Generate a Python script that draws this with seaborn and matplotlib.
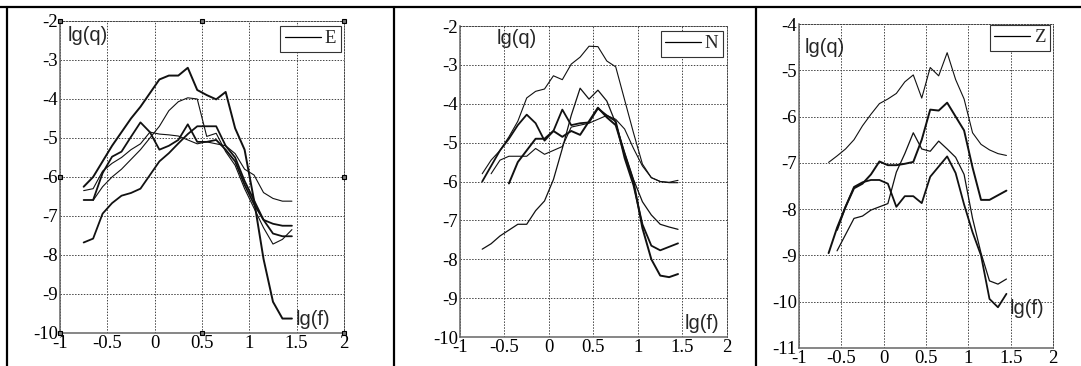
import numpy as np
import pandas as pd
import matplotlib
matplotlib.use('Agg')
import matplotlib.pyplot as plt
from matplotlib.lines import Line2D
import seaborn as sns

nan = np.nan

# lg(f) sample points shared by all curves
lg_f = [-0.75, -0.65, -0.55, -0.45, -0.35, -0.25, -0.15, -0.05, 0.05, 0.15, 0.25, 0.35,
        0.45, 0.55, 0.65, 0.75, 0.85, 0.95, 1.05, 1.15, 1.25, 1.35, 1.45]

# component E
E_a = [-6.25, -6.0, -5.6, -5.2, -4.85, -4.5, -4.2, -3.85, -3.5, -3.4, -3.4, -3.2,
       -3.77, -3.9, -4.01, -3.82, -4.75, -5.3, -6.6, -8.1, -9.2, -9.63, -9.63]
E_b = [nan, -6.6, -6.25, -6.0, -5.8, -5.55, -5.3, -5.0, -4.7, -4.3, -4.07, -3.97,
       -4.0, -4.96, -4.88, -5.35, -5.7, -6.3, -6.8, -7.3, -7.72, -7.6, -7.35]
E_c = [-6.59, -6.59, -5.9, -5.48, -5.35, -4.97, -4.6, -4.85, -5.3, -5.2, -5.05, -4.65,
       -5.1, -5.1, -5.05, -5.3, -5.6, -6.2, -6.7, -7.1, -7.2, -7.25, -7.25]
E_d = [-6.35, -6.3, -5.85, -5.65, -5.5, -5.3, -5.15, -4.85, -4.9, -4.92, -4.95, -5.05,
       -5.15, -5.1, -5.15, -5.2, -5.4, -5.8, -5.95, -6.4, -6.55, -6.62, -6.62]
E_e = [-7.68, -7.58, -6.94, -6.67, -6.48, -6.41, -6.3, -5.95, -5.6, -5.39, -5.14, -4.9,
       -4.7, -4.7, -4.7, -5.2, -5.5, -6.1, -6.6, -7.1, -7.45, -7.52, -7.52]

# component N
N_a = [-5.8, -5.45, -5.2, -4.85, -4.45, -3.85, -3.68, -3.62, -3.28, -3.38, -2.98, -2.8,
       -2.52, -2.53, -2.9, -3.05, -3.9, -4.75, -5.55, -5.9, -6.0, -6.03, -6.03]
N_b = [-6.0, -5.6, -5.2, -4.9, -4.55, -4.28, -4.5, -4.95, -4.7, -4.15, -4.55, -4.5,
       -4.48, -4.12, -4.3, -4.45, -5.4, -6.1, -7.1, -7.65, -7.77, -7.68, -7.59]
N_c = [nan, -5.8, -5.45, -5.35, -5.35, -5.35, -5.15, -5.3, -5.2, -5.1, -4.6, -4.55,
       -4.5, -4.4, -4.3, -4.4, -4.65, -5.15, -5.6, -5.9, -6.0, -6.02, -5.97]
N_d = [nan, nan, nan, -6.05, -5.5, -5.2, -4.9, -4.9, -4.7, -4.85, -4.7, -4.8,
       -4.45, -4.1, -4.35, -4.55, -5.3, -6.0, -7.2, -8.0, -8.42, -8.46, -8.38]
N_e = [-7.74, -7.6, -7.4, -7.25, -7.1, -7.1, -6.75, -6.5, -5.95, -5.15, -4.3, -3.6,
       -3.88, -3.65, -3.93, -4.5, -5.25, -5.95, -6.52, -6.86, -7.1, -7.17, -7.23]

# component Z
Z_a = [nan, -6.99, -6.85, -6.7, -6.5, -6.2, -5.95, -5.72, -5.62, -5.5, -5.25, -5.1,
       -5.6, -4.94, -5.12, -4.62, -5.2, -5.62, -6.35, -6.6, -6.72, -6.8, -6.84]
Z_b = [nan, -8.95, -8.4, -7.95, -7.55, -7.45, -7.25, -6.97, -7.05, -7.05, -7.02, -6.98,
       -6.5, -5.85, -5.87, -5.7, -6.0, -6.3, -7.1, -7.8, -7.8, -7.7, -7.6]
Z_c = [nan, nan, -8.45, -7.95, -7.52, -7.42, -7.37, -7.37, -7.45, -7.95, -7.72, -7.72,
       -7.87, -7.3, -7.08, -6.86, -7.22, -7.9, -8.5, -9.0, -9.94, -10.12, -9.83]
Z_d = [nan, nan, -8.9, -8.55, -8.2, -8.15, -8.02, -7.95, -7.88, -7.2, -6.8, -6.35,
       -6.7, -6.75, -6.53, -6.7, -6.88, -7.25, -8.2, -8.95, -9.55, -9.62, -9.51]

x_ticks = [-1, -0.5, 0, 0.5, 1, 1.5, 2]
x_ticklabels = ['-1', '-0.5', '0', '0.5', '1', '1.5', '2']

panels = [
    dict(name='E', curves=[E_a, E_b, E_c, E_d, E_e], widths=[1.4, 0.8, 1.3, 0.8, 1.3],
         ylim=(-10, -2), rect=[0.0555, 0.0902, 0.2627, 0.8525],
         q_pos=(0.028, 0.954), f_pos=(0.831, 0.042), leg=(0.988, 0.985), handles=True),
    dict(name='N', curves=[N_a, N_b, N_c, N_d, N_e], widths=[0.8, 1.3, 0.8, 1.4, 0.9],
         ylim=(-10, -2), rect=[0.4255, 0.0792, 0.2470, 0.8497],
         q_pos=(0.139, 0.96), f_pos=(0.843, 0.043), leg=(0.985, 0.985), handles=False),
    dict(name='Z', curves=[Z_a, Z_b, Z_c, Z_d], widths=[0.8, 1.4, 1.3, 0.9],
         ylim=(-11, -4), rect=[0.7391, 0.0492, 0.2350, 0.8852],
         q_pos=(0.024, 0.927), f_pos=(0.83, 0.123), leg=(0.988, 0.998), handles=False),
]

sns.set_style('white')
plt.rcParams['font.family'] = ['Liberation Serif', 'DejaVu Serif']

fig = plt.figure(figsize=(10.81, 3.66), dpi=100)

for p in panels:
    ax = fig.add_axes(p['rect'])
    for ys, lw in zip(p['curves'], p['widths']):
        df = pd.DataFrame({'lg_f': lg_f, 'lg_q': ys}).dropna()
        sns.lineplot(data=df, x='lg_f', y='lg_q', ax=ax, color='#111111', lw=lw,
                     estimator=None, sort=False)

    ax.set_xlim(-1, 2)
    ax.set_ylim(*p['ylim'])
    ax.set_xticks(x_ticks)
    ax.set_xticklabels(x_ticklabels)
    yt = list(range(p['ylim'][0], p['ylim'][1] + 1))
    ax.set_yticks(yt)
    ax.set_yticklabels([str(v) for v in yt])
    ax.set_xlabel('')
    ax.set_ylabel('')
    ax.tick_params(length=0, labelsize=13.5, pad=1.5, colors='black')
    ax.grid(True, color='#444444', lw=0.7, linestyle=(0, (1.5, 1.5)))

    for s in ['left', 'bottom']:
        ax.spines[s].set_color('#666666')
        ax.spines[s].set_linewidth(1.1)
    for s in ['top', 'right']:
        ax.spines[s].set_color('#444444')
        ax.spines[s].set_linewidth(0.7)
        ax.spines[s].set_linestyle((0, (1.5, 1.5)))

    ax.text(p['q_pos'][0], p['q_pos'][1], 'lg(q)', transform=ax.transAxes,
            family='Liberation Sans', fontsize=14.5, ha='left', va='center')
    ax.text(p['f_pos'][0], p['f_pos'][1], 'lg(f)', transform=ax.transAxes,
            family='Liberation Sans', fontsize=14.5, ha='left', va='center')

    leg = ax.legend(handles=[Line2D([], [], color='black', lw=0.9)], labels=[p['name']],
                    loc='upper right', bbox_to_anchor=p['leg'], borderaxespad=0,
                    frameon=True, fancybox=False, framealpha=1, edgecolor='#333333',
                    handlelength=1.9, handletextpad=0.2, borderpad=0.25,
                    prop={'family': 'Liberation Serif', 'size': 13.5})
    leg.get_frame().set_linewidth(0.8)

    if p['handles']:
        # edit handles drawn on the axes box
        x0, x1 = ax.get_xlim()
        y0, y1 = ax.get_ylim()
        xm, ym = (x0 + x1) / 2, (y0 + y1) / 2
        hx = [x0, xm, x1, x0, x1, x0, xm, x1]
        hy = [y1, y1, y1, ym, ym, y0, y0, y0]
        ax.plot(hx, hy, ls='none', marker='s', ms=3.5, mfc='#777777', mec='black',
                mew=0.8, clip_on=False, zorder=5)

# frame lines of the table around the panels
fig.add_artist(Line2D([0, 1], [1 - 7 / 366, 1 - 7 / 366], color='black', lw=1.6,
                      transform=fig.transFigure))
for xp in [7, 394, 756]:
    fig.add_artist(Line2D([xp / 1081, xp / 1081], [0, 1 - 7 / 366], color='black', lw=1.6,
                          transform=fig.transFigure))

fig.savefig('out.png', dpi=100)
